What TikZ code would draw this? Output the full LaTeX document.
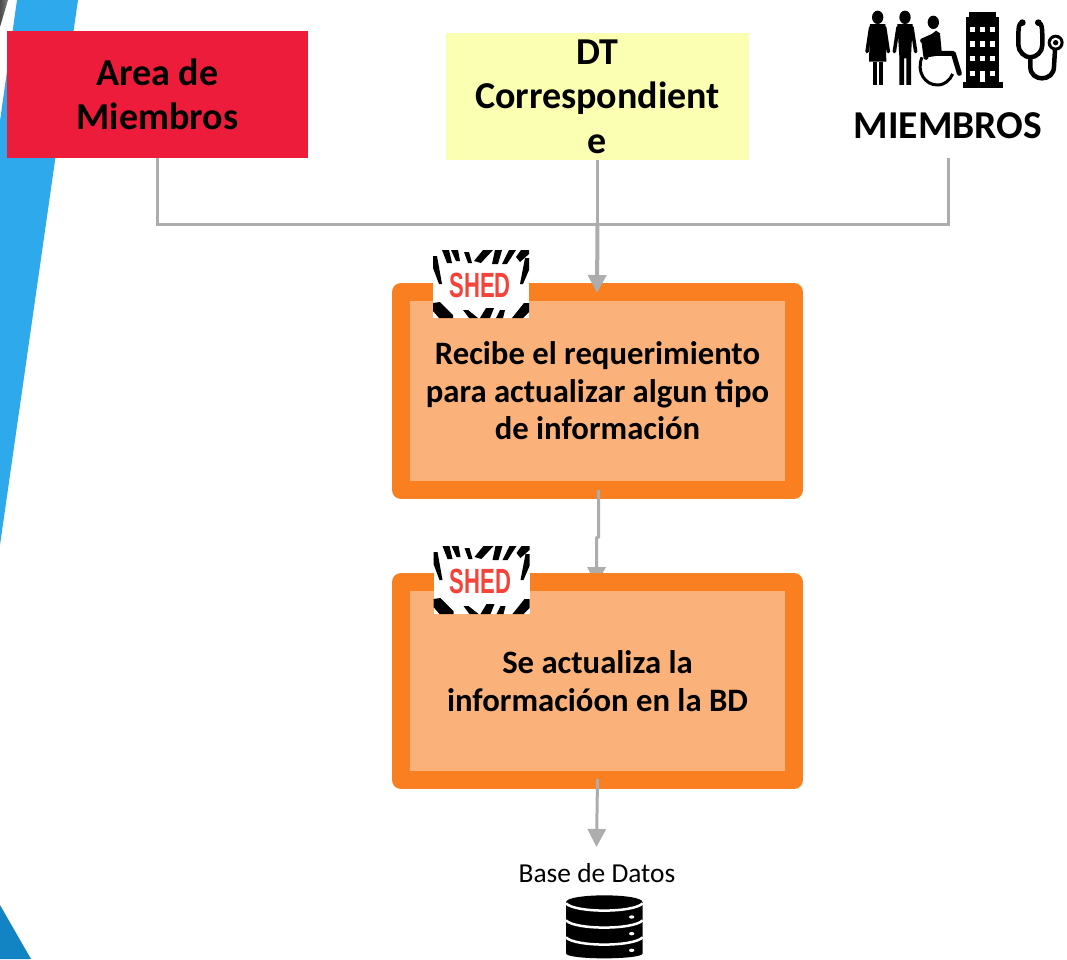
\documentclass[tikz,border=0pt]{standalone}
\usepackage{fontspec}
\setmainfont{Carlito}
\newfontfamily\shedfont{Liberation Sans}
\usetikzlibrary{arrows.meta}
\definecolor{bandblue}{HTML}{2EA9EC}
\definecolor{cornerblue}{HTML}{1284C4}
\definecolor{areared}{HTML}{EC1C3A}
\definecolor{dtyellow}{HTML}{FAFFB2}
\definecolor{boxorange}{HTML}{F97F21}
\definecolor{boxpeach}{HTML}{FBB27A}
\definecolor{linkgray}{HTML}{ADADAD}
\definecolor{shedred}{HTML}{F5433A}
\tikzset{
  titlebox/.style={rectangle,inner sep=0pt,align=center,font=\fontsize{38}{44.5}\selectfont\bfseries},
  stepbox/.style={rectangle,draw=boxorange,fill=boxpeach,line width=18pt,line join=round,
    minimum width=393pt,minimum height=198pt,inner sep=0pt,align=center,
    font=\fontsize{32.7}{37.5}\selectfont\bfseries},
  link/.style={draw=linkgray,line width=3pt},
  linkarrow/.style={draw=linkgray,line width=4pt,-{Triangle[width=18pt,length=18pt]}},
  pics/shedlogo/.style={code={
    \fill[white] (0,0) rectangle (96,68);
    \fill (9,0)--(16,0)--(19,13)--(14,13)--cycle;
    \fill (18,0)--(25,0)--(27,11)--(23,11)--cycle;
    \fill (31,2)--(36,2)--(39,13)--(35,13)--cycle;
    \fill (41,11)--(50,0)--(60,0)--(48,13)--cycle;
    \fill (59,14)--(62,0)--(69,0)--(65,14)--cycle;
    \fill (69,14)--(76,0)--(83,0)--(74,14)--cycle;
    \fill (83,7)--(88,0)--(96,0)--(96,4)--(87,12)--cycle;
    \fill (0,6)--(4,6)--(9,34)--(6,34)--(0,18)--cycle;
    \fill (96,8)--(92,8)--(87,34)--(90,34)--(96,20)--cycle;
    \fill (0,53)--(7,52)--(20,65)--(20,68)--(6,68)--(0,61)--cycle;
    \fill (30,60)--(35,60)--(45,68)--(36,68)--cycle;
    \fill (47,68)--(53,58)--(61,58)--(57,68)--cycle;
    \fill (79,68)--(91,53)--(96,53)--(96,62)--(90,68)--cycle;
    \fill (63,68)--(67,60)--(72,60)--(70,68)--cycle;
    \node[text=shedred,font=\fontsize{35}{35}\selectfont\shedfont\bfseries,xscale=0.63,inner sep=0pt] at (47,35) {#1};
  }},
}
\begin{document}
\begin{tikzpicture}[line cap=butt,line join=miter,x=1pt,y=-1pt]
\useasboundingbox (0,0) rectangle (1067,959);
\fill[white] (0,0) rectangle (1067,959);
\fill[bandblue] (17,0)--(78,0)--(0,545)--(0,121)--cycle;
\fill[cornerblue] (0,905)--(31,959)--(0,959)--cycle;
\shade[left color=black!70,right color=black!50] (0,0)--(8,0)--(0,27)--cycle;

\node[titlebox,fill=areared,minimum width=301pt,minimum height=127pt] (nArea) at (157.5,94.5) {Area de\\Miembros};
\node[titlebox,fill=dtyellow,minimum width=303pt,minimum height=127pt] (nDT) at (597.5,96.5) {DT\\Correspondient\\e};
\node[titlebox,font=\fontsize{39.5}{44.5}\selectfont\bfseries,minimum width=190pt,minimum height=64pt] (nMiembros) at (948,126) {MIEMBROS};
\coordinate (cJoin) at (597.5,224);
\draw[link] (nArea.south) |- (cJoin) -| (nMiembros.south);
\draw[link] (nDT.south) -- (cJoin);

\node[stepbox] (nRecibe) at (597.5,391) {Recibe el requerimiento\\para actualizar algun tipo\\de información};
\coordinate (cRecibeIn) at (597,293);
\draw[linkarrow] (cJoin) -- (cRecibeIn);

\coordinate (cRecibeOut) at (598.5,490);
\coordinate (cJogA) at (598.5,537);
\coordinate (cJogB) at (596.5,538);
\coordinate (cActualizaIn) at (596.5,585);
\draw[linkarrow,line width=3pt] (cRecibeOut) -- (cJogA) -- (cJogB) -- (cActualizaIn);
\node[stepbox] (nActualiza) at (597.5,681) {Se actualiza la\\informacióon en la BD};

\coordinate (cActualizaOut) at (597.5,779);
\node[font=\fontsize{27.4}{30}\selectfont,inner sep=0pt] (nBase) at (597,873) {Base de Datos};
\coordinate (cBaseIn) at (596.5,847);
\draw[linkarrow,line width=3pt] (cActualizaOut) -- (cBaseIn);

\pic at (433,250) {shedlogo={SHED}};
\pic at (433.5,546) {shedlogo={SHED}};

\begin{scope}[shift={(850,0)},scale=0.3333]
\fill (83,52) ellipse (17 and 20);
\draw[line width=3.5pt,line cap=round] (62,82)--(51,155);
\draw[line width=3.5pt,line cap=round] (104,82)--(115,155);
\fill (60,72)--(106,72)--(109,185)--(57,185)--cycle;
\fill (68,185) rectangle (81,255);
\fill (86,185) rectangle (99,255);
\fill (165,52) ellipse (17 and 20);
\draw[line width=3.5pt,line cap=round] (144,82)--(133,155);
\draw[line width=3.5pt,line cap=round] (186,82)--(197,155);
\fill (142,72)--(188,72)--(183,170)--(183,255)--(169,255)--(169,175)--(162,175)--(162,255)--(148,255)--(148,170)--cycle;
\fill (250,67) ellipse (17 and 20);
\draw[line width=4.5pt,line cap=round,line join=round] (217,122)--(255,105);
\draw[line width=5pt,line cap=round,line join=round] (228,172)--(222,125);
\draw[line width=5pt,line cap=round,line join=round] (262,160)--(310,160)--(328,220);
\fill (226,118)--(258,92)--(270,100)--(276,165)--(232,172)--cycle;
\draw[line width=3pt] (216,172) .. controls (198,215) and (225,255) .. (262,255) .. controls (285,255) and (300,240) .. (308,222);
\fill (338,245) rectangle (458,265);
\fill (348,50) rectangle (447,245);
\fill (358,35) rectangle (438,50);
\foreach \ypos in {88,132,175,220} {
  \foreach \xpos in {367,397,428} {
    \fill[white] (\xpos-7,\ypos-8) rectangle (\xpos+7,\ypos+8);
  }
}
\fill[white] (390,212) rectangle (404,245);
\fill (517,68) circle (10);
\fill (565,68) circle (10);
\draw[line width=4.5pt,line join=round] (517,68) .. controls (505,70) and (505,80) .. (505,135) .. controls (505,155) and (525,172) .. (540,172) .. controls (560,172) and (577,155) .. (577,135) .. controls (577,80) and (577,70) .. (565,68);
\draw[line width=4.5pt] (541,172)--(541,200) .. controls (541,225) and (560,235) .. (576,235) .. controls (595,235) and (612,222) .. (612,200)--(615,150);
\fill (617,128) circle (24);
\fill[white] (617,128) circle (15);
\fill (617,128) circle (8);
\end{scope}

\begin{scope}[shift={(500,840)},scale=0.3333]
\fill (198,187) .. controls (198,159) and (428,159) .. (428,187)--(428,340) .. controls (428,360) and (198,360) .. (198,340)--cycle;
\foreach \ypos in {190,241,292} {
  \draw[white,line width=2.5pt] (198,\ypos) .. controls (225,\ypos+29) and (400,\ypos+29) .. (428,\ypos);
}
\foreach \ypos in {231,281,331} {
  \fill[white] (395,\ypos) ellipse (8 and 5);
}
\end{scope}
\end{tikzpicture}
\end{document}
